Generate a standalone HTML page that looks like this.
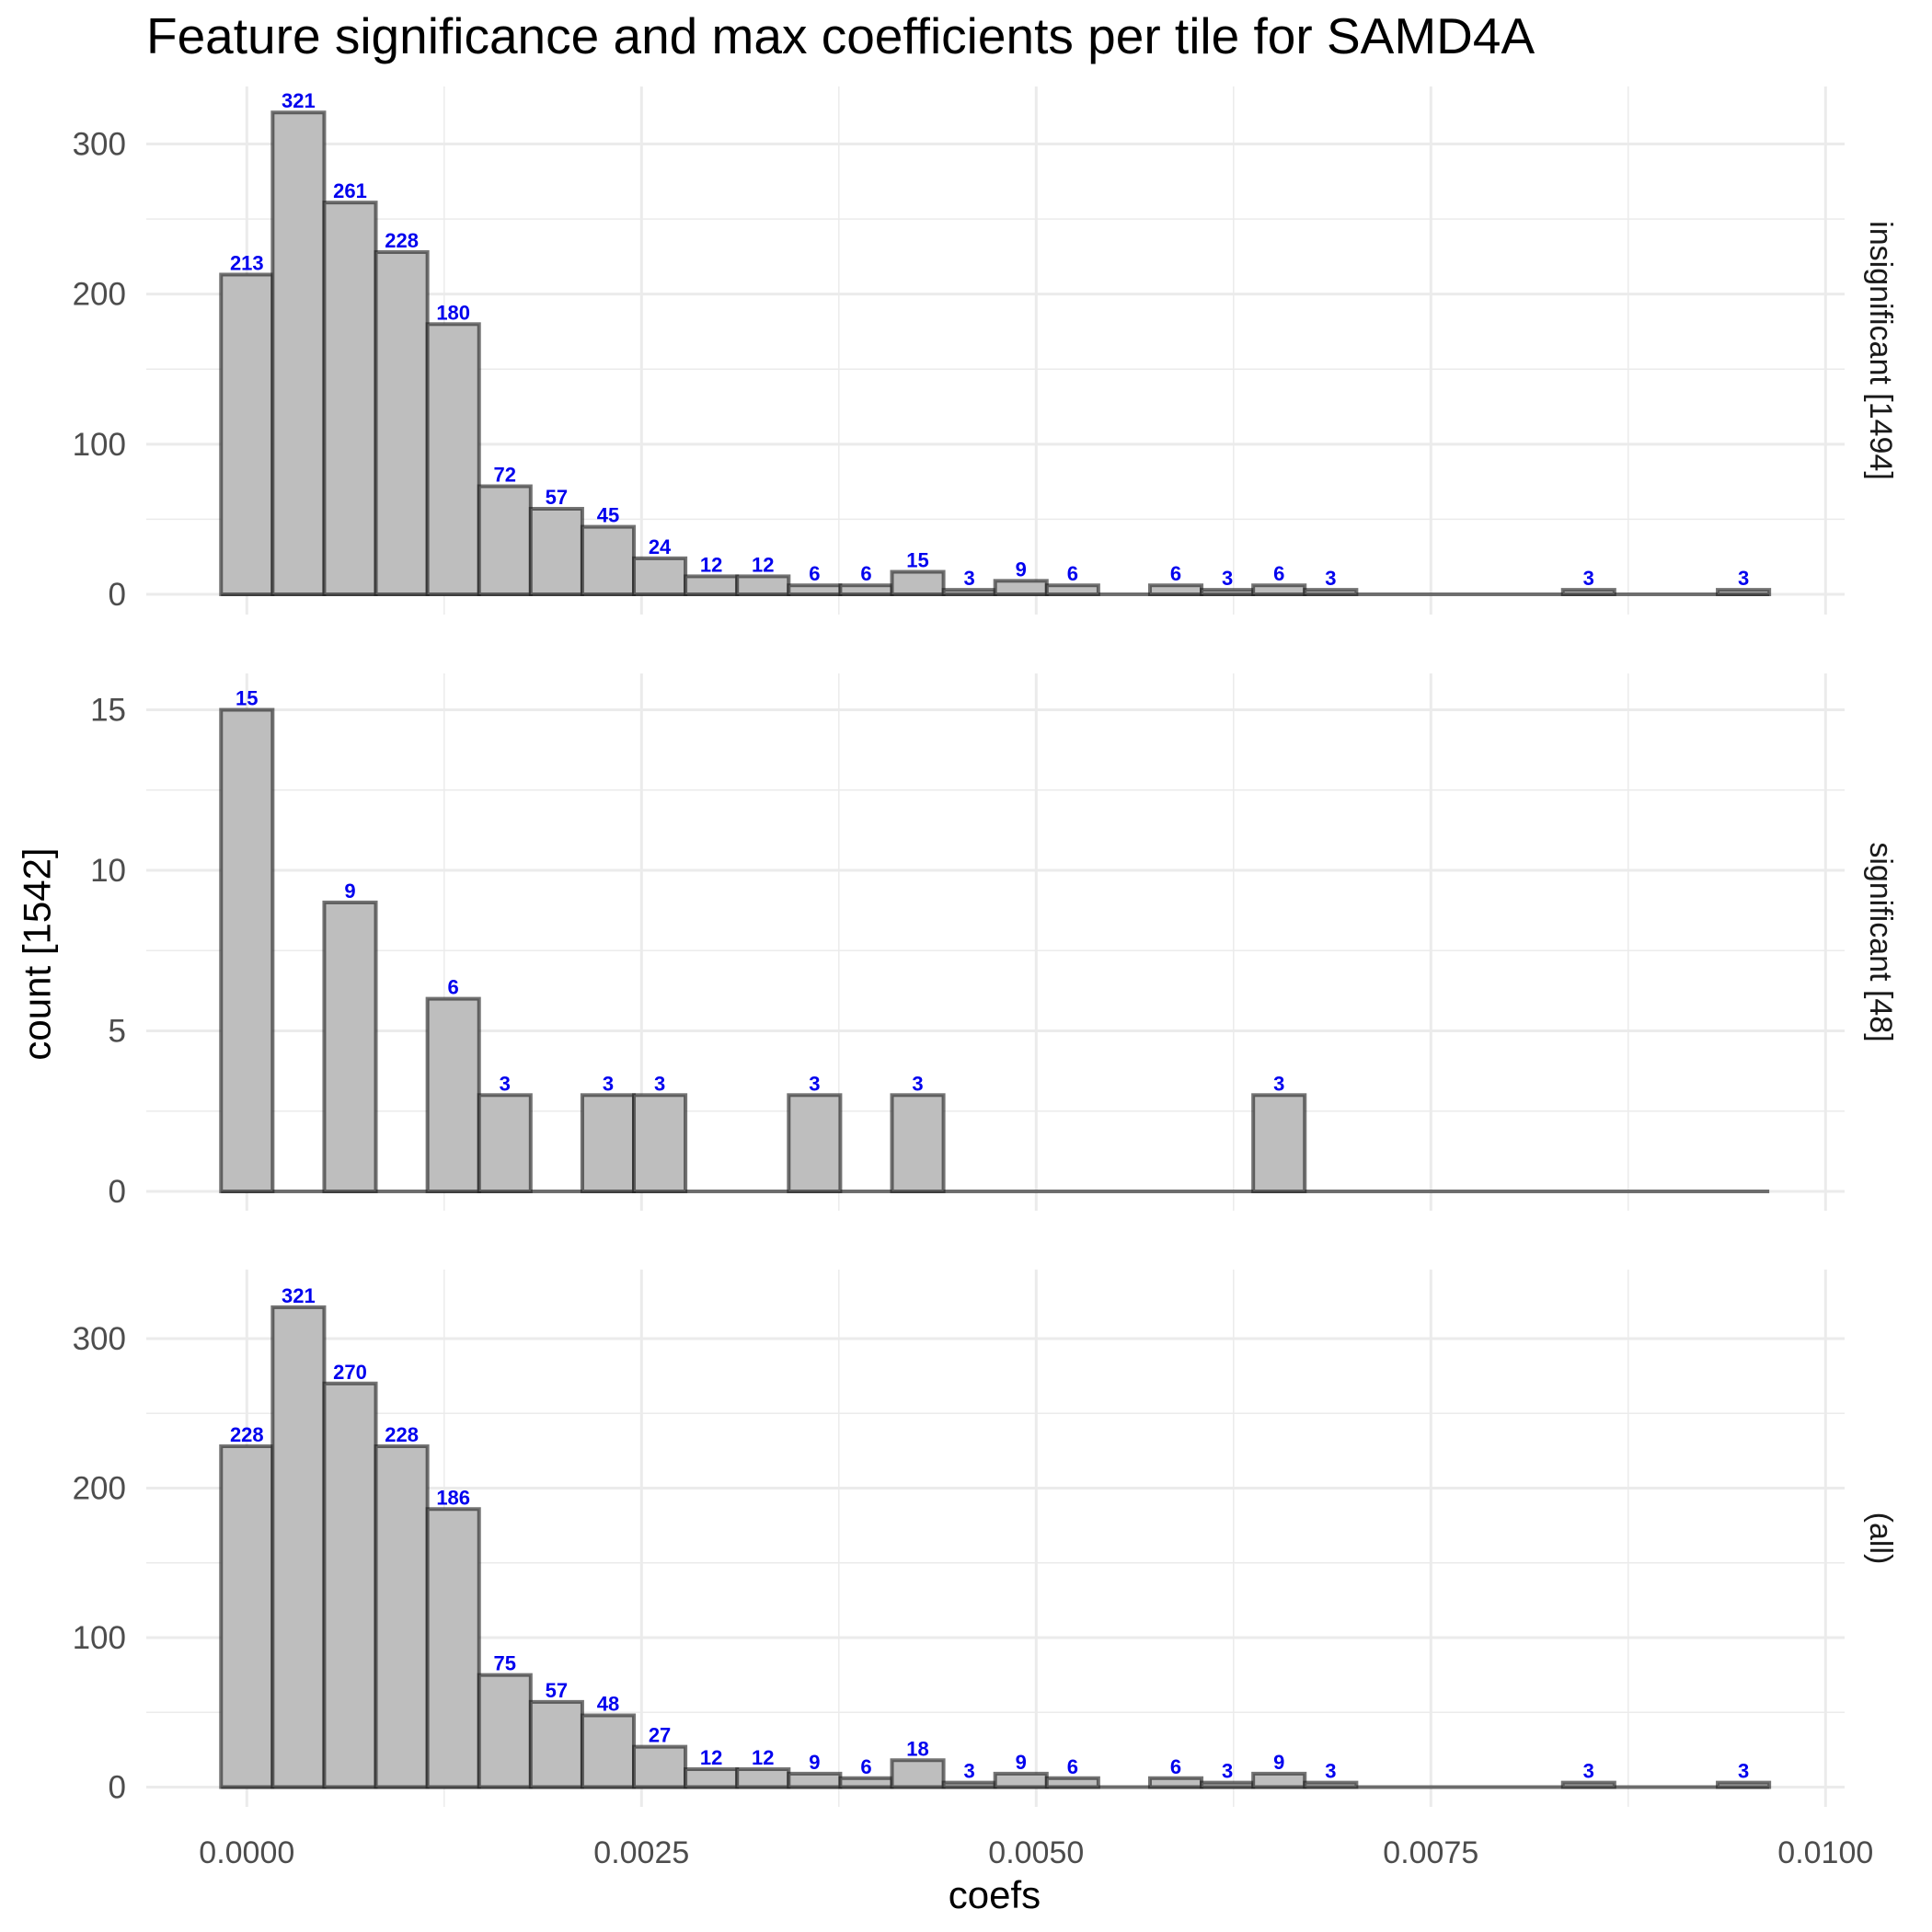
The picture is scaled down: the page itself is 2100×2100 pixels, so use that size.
<!DOCTYPE html>
<html><head><meta charset="utf-8"><style>
html,body{margin:0;padding:0;background:#fff}
svg{display:block;font-family:"Liberation Sans",sans-serif}
</style></head><body>
<svg id="chart" width="2100" height="2100" viewBox="0 0 2100 2100"></svg>
<script>
const panelNames = ["insignificant [1494]", "significant [48]", "(all)"];
const countsInsig = [213,321,261,228,180,72,57,45,24,12,12,6,6,15,3,9,6,0,6,3,6,3,0,0,0,0,3,0,0,3];
const countsSig = [15,0,9,0,6,3,0,3,3,0,0,3,0,3,0,0,0,0,0,0,3,0,0,0,0,0,0,0,0,0];
const countsAll = [228,321,270,228,186,75,57,48,27,12,12,9,6,18,3,9,6,0,6,3,9,3,0,0,0,0,3,0,0,3];
const binWidth = 0.0003269;
const xTicks = [0, 0.0025, 0.005, 0.0075, 0.01];
const xTickLabels = ["0.0000","0.0025","0.0050","0.0075","0.0100"];
const yTicksBig = [0,100,200,300];
const yTicksSmall = [0,5,10,15];

const svg = document.getElementById('chart');
const NS = 'http://www.w3.org/2000/svg';
function mk(tag, attrs, parent){const e=document.createElementNS(NS,tag);for(const k in attrs)e.setAttribute(k,attrs[k]);(parent||svg).appendChild(e);return e;}

const X0 = 268.3, XK = 171600;
const xs = v => X0 + v*XK;
const panelL = 159, panelR = 2005;
const panels = [
  {counts: countsInsig, top: 94, bottom: 668, y0: 646, yTop: 156.5, vTop: 300, ticks: yTicksBig, minor: [50,150,250], name: panelNames[0]},
  {counts: countsSig, top: 732, bottom: 1316, y0: 1295, yTop: 771.5, vTop: 15, ticks: yTicksSmall, minor: [2.5,7.5,12.5], name: panelNames[1]},
  {counts: countsAll, top: 1380, bottom: 1964, y0: 1942.5, yTop: 1455, vTop: 300, ticks: yTicksBig, minor: [50,150,250], name: panelNames[2]}
];

let t = mk('text',{x:159,y:58,'font-size':55,fill:'#000'});


t.textContent='Feature significance and max coefficients per tile for SAMD4A';

panels.forEach((p, pi) => {
  const ys = v => p.y0 - v*(p.y0-p.yTop)/p.vTop;
  const g = mk('g',{});
  
  
  p.minor.forEach(v=>{
    const l=mk('line',{x1:panelL,x2:panelR,y1:ys(v),y2:ys(v),stroke:'#ebebeb','stroke-width':1.5},g);
    
    
  });
  [0.00125,0.00375,0.00625,0.00875].forEach(v=>{
    const l=mk('line',{x1:xs(v),x2:xs(v),y1:p.top,y2:p.bottom,stroke:'#ebebeb','stroke-width':1.5},g);
    
    
  });
  p.ticks.forEach(v=>{
    const l=mk('line',{x1:panelL,x2:panelR,y1:ys(v),y2:ys(v),stroke:'#ebebeb','stroke-width':3},g);
    
    
    const tl=mk('text',{x:137,y:ys(v)+12,'font-size':35,fill:'#4d4d4d','text-anchor':'end'},g);
    
    
    tl.textContent=String(v);
  });
  xTicks.forEach(v=>{
    const l=mk('line',{x1:xs(v),x2:xs(v),y1:p.top,y2:p.bottom,stroke:'#ebebeb','stroke-width':3},g);
    
    
  });
  const w = binWidth*XK;
  const n = p.counts.length;
  const base=mk('line',{x1:xs(0)-w/2,x2:xs((n-1)*binWidth)+w/2,y1:ys(0),y2:ys(0),stroke:'rgba(30,30,30,0.62)','stroke-width':4},g);
  
  
  p.counts.forEach((c,i)=>{
    if(c<=0) return;
    const cx = xs(i*binWidth);
    const r=mk('rect',{x:cx-w/2,y:ys(c),width:w,height:ys(0)-ys(c),fill:'#bebebe',stroke:'rgba(30,30,30,0.62)','stroke-width':4},g);
    
    
    const lb=mk('text',{x:cx,y:ys(c)-5,'font-size':22,'font-weight':'bold',fill:'#0000ee','text-anchor':'middle'},g);
    
    
    lb.textContent=String(c);
  });
  const mid=(p.top+p.bottom)/2;
  const s=mk('text',{x:2044,y:mid,'font-size':34,fill:'#1a1a1a','text-anchor':'middle','dominant-baseline':'central',transform:`rotate(90 2044 ${mid})`},g);
  
  
  s.textContent=p.name;
});

xTicks.forEach((v,i)=>{
  const tl=mk('text',{x:xs(v),y:2025,'font-size':34,fill:'#4d4d4d','text-anchor':'middle'});
  
  
  tl.textContent=xTickLabels[i];
});
let xt=mk('text',{x:1081,y:2074,'font-size':42,fill:'#000','text-anchor':'middle'});


xt.textContent='coefs';
let yt=mk('text',{x:40,y:1037,'font-size':42,fill:'#000','text-anchor':'middle','dominant-baseline':'central',transform:'rotate(-90 40 1037)'});


yt.textContent='count [1542]';
</script>
</body></html>
